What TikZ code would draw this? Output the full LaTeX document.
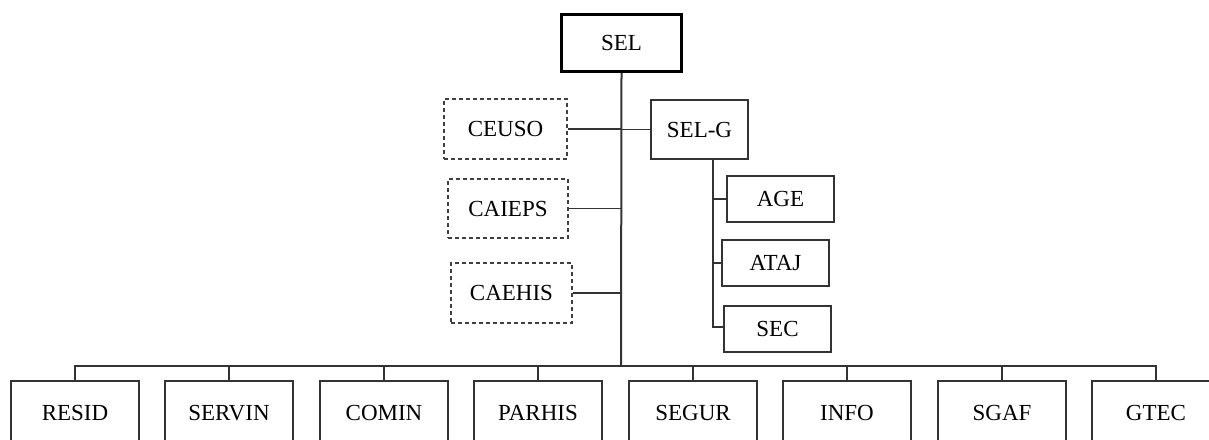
\documentclass[tikz,border=0pt]{standalone}
\usepackage{fontspec}
\setmainfont{Liberation Serif}
\usepackage{tikz}
\usetikzlibrary{backgrounds}
\tikzstyle{head}=[rectangle,
draw=black,
line width=3pt,
minimum width=120pt,
minimum height=57pt]
\tikzstyle{unit}=[rectangle,
draw=black!80,
line width=1.3pt,
minimum width=128pt,
minimum height=64pt]
\tikzstyle{sub}=[rectangle,
draw=black!80,
line width=1.3pt,
minimum width=107pt,
minimum height=46pt]
\tikzstyle{council}=[rectangle,
draw=black!75,
line width=1.3pt,
dash pattern=on 4pt off 3pt,
minimum width=121pt,
minimum height=60pt]
\tikzstyle{link}=[draw=black!80,line width=1.3pt]

\begin{document}
\begin{tikzpicture}[x=1pt,y=-1pt,text height=15.5pt,text depth=0pt,
  font=\fontsize{23}{27}\selectfont]
		% the page keeps the size of the reference picture
		\useasboundingbox[fill=white] (0,0) rectangle (1209,439);

		% Top: the head office and the general secretariat
		\node (sel)  [head] at (621.5,43) {SEL};
		\node (selg) [sub,minimum width=97pt,minimum height=59pt] at (699.5,129.5) {SEL-G};

		% Left: the councils (dashed)
		\node (ceuso)  [council,minimum width=123pt] at (505.5,129) {CEUSO};
		\node (caieps) [council,minimum width=120pt,minimum height=59pt] at (508,208.5) {CAIEPS};
		\node (caehis) [council] at (511.5,293) {CAEHIS};

		% Right: the units under SEL-G
		\node (age)  [sub] at (780.5,199) {AGE};
		\node (ataj) [sub] at (775.5,263) {ATAJ};
		\node (sec)  [sub] at (777.5,329) {SEC};

		% Bottom row: the departments
		\node (resid)  [unit] at (75,413)   {RESID};
		\node (servin) [unit] at (229,413)  {SERVIN};
		\node (comin)  [unit] at (384,413)  {COMIN};
		\node (parhis) [unit] at (538,413)  {PARHIS};
		\node (segur)  [unit] at (693,413)  {SEGUR};
		\node (info)   [unit] at (847,413)  {INFO};
		\node (sgaf)   [unit] at (1002,413) {SGAF};
		\node (gtec)   [unit] at (1156,413) {GTEC};

		\coordinate (bus) at (621,366);
		\coordinate (gbr) at (713,159);

		% The trunk and the bus
		\draw[link,line width=2pt] (sel.south) -- (bus);
		\draw[link] (resid.north) -- (resid.north |- bus) -- (gtec.north |- bus) -- (gtec.north);
		\path[link]
		(servin.north) edge (servin.north |- bus)
		(comin.north)  edge (comin.north |- bus)
		(parhis.north) edge (parhis.north |- bus)
		(segur.north)  edge (segur.north |- bus)
		(info.north)   edge (info.north |- bus)
		(sgaf.north)   edge (sgaf.north |- bus)
		;

		% Side branches of the trunk
		\path[link]
		(ceuso.east)  edge (ceuso.east -| bus)
		(selg.west)   edge (selg.west -| bus)
		(caieps.east) edge (caieps.east -| bus)
		(caehis.east) edge (caehis.east -| bus)
		;

		% Branch under SEL-G
		\draw[link] (gbr) |- ([yshift=2pt]sec.west);
		\path[link]
		(age.west)  edge (age.west -| gbr)
		(ataj.west) edge (ataj.west -| gbr)
		;
		\end{tikzpicture}
\end{document}
